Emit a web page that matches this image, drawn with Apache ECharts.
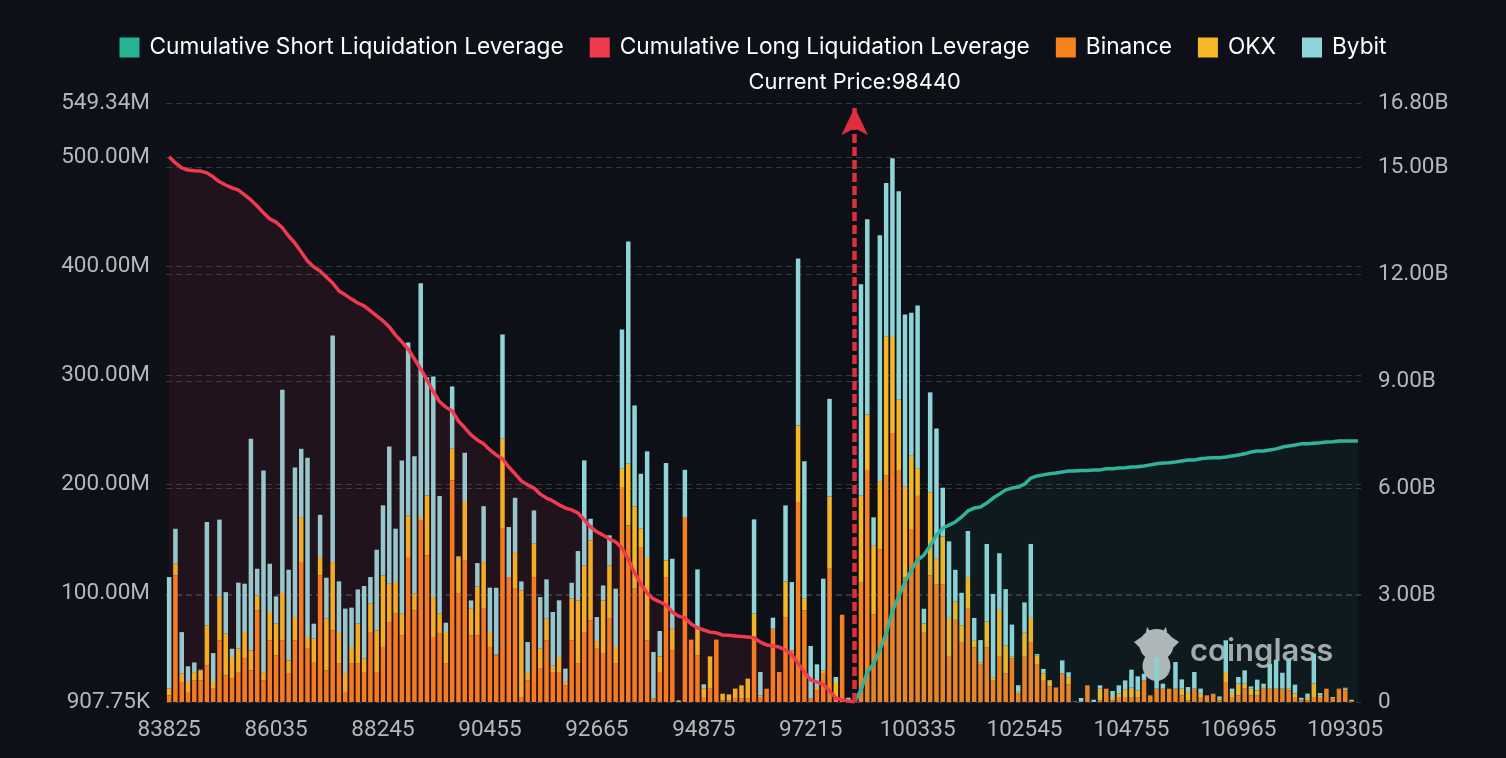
<!DOCTYPE html>
<html>
  <head>
    <meta charset="UTF-8" />
    <title>Liquidation Map</title>
    <style>
      html, body { margin: 0; padding: 0; background: #0d1017; }
      #chart { width: 1506px; height: 758px; }
    </style>
    <script src="https://cdn.jsdelivr.net/npm/echarts@6/dist/echarts.min.js"></script>
  </head>
  <body>
    <div id="chart"></div>
    <script>
      var currentPrice = 98440;

      // price levels, a label every 17 bars
      var prices = [
        83825,83955,84085,84215,84345,84475,84605,84735,84865,84995,85125,85255,85385,85515,85645,85775,85905,86035,
        86165,86295,86425,86555,86685,86815,86945,87075,87205,87335,87465,87595,87725,87855,87985,88115,88245,
        88375,88505,88635,88765,88895,89025,89155,89285,89415,89545,89675,89805,89935,90065,90195,90325,90455,
        90585,90715,90845,90975,91105,91235,91365,91495,91625,91755,91885,92015,92145,92275,92405,92535,92665,
        92795,92925,93055,93185,93315,93445,93575,93705,93835,93965,94095,94225,94355,94485,94615,94745,94875,
        95005,95135,95265,95395,95525,95655,95785,95915,96045,96175,96305,96435,96565,96695,96955,97085,97215,
        97345,97475,97605,97735,97865,97995,98440,
        99165,99295,99425,99555,99685,99815,99945,100075,100205,100335,
        100465,100595,100725,100855,100985,101115,101245,101375,101505,101635,101765,101895,102025,102155,102285,102415,102545,
        102675,102805,102935,103065,103195,103325,103455,103585,103715,103845,103975,104105,104235,104365,104495,104625,104755,
        104885,105015,105145,105275,105405,105535,105665,105795,105925,106055,106185,106315,106445,106575,106705,106835,106965,
        107095,107225,107355,107485,107615,107745,107875,108005,108135,108265,108395,108525,108655,108785,108915,109175,109305,
        109435,109565
      ];

      // liquidation per exchange, in millions
      var binance = [
        7.0,116.8,19.2,10.1,20.7,20.7,34.5,13.1,57.4,25.3,22.3,28.4,40.6,29.9,84.8,20.7,57.4,43.6,57.4,26.8,
        57.4,129.0,49.7,37.5,116.8,29.9,66.5,36.0,10.1,36.0,36.0,28.4,65.0,28.4,51.3,74.1,81.8,61.9,133.6,84.8,
        167.2,135.1,60.4,63.5,36.0,203.8,100.1,130.6,61.9,61.9,86.3,51.3,43.6,159.5,115.3,104.6,5.5,20.7,115.3,31.4,
        57.4,28.4,28.4,16.2,57.4,36.0,65.0,75.7,49.7,45.1,77.2,36.0,197.7,162.6,104.6,142.8,57.4,4.0,28.4,115.3,
        48.2,0.9,170.2,58.0,43.6,5.5,13.1,58.0,2.4,2.4,4.0,4.0,4.0,57.4,5.5,13.1,68.0,28.4,78.7,48.2,
        184.0,84.8,4.0,11.6,27.5,122.9,5.5,80.8,0.9,0.5,110.1,213.3,81.3,140.5,208.3,247.2,213.3,115.1,159.2,189.6,
        64.3,116.8,108.4,108.4,42.3,76.2,55.9,86.4,50.8,35.6,50.8,20.3,42.3,27.1,40.6,8.5,42.3,55.9,35.6,20.3,
        15.2,14.2,27.1,16.9,0.5,0.9,16.2,0.6,2.4,13.1,2.4,5.5,5.5,5.5,4.9,20.7,7.0,13.1,13.1,13.1,
        13.1,7.0,2.4,13.1,5.5,7.0,8.5,2.4,19.2,5.5,7.0,13.1,7.0,7.0,13.1,13.1,13.1,13.1,11.6,5.5,
        2.4,2.4,5.5,5.5,13.1,4.0,12.2,11.6,1.5,0.3
      ];
      var okx = [
        6.1,10.7,7.6,9.2,7.6,9.2,36.6,6.1,39.7,38.1,19.8,21.4,24.4,18.3,13.7,7.6,25.9,29.0,43.3,12.2,
        21.4,41.2,10.7,21.4,16.8,47.3,62.5,29.0,17.4,15.3,36.6,12.2,25.9,38.1,65.6,35.1,29.0,19.8,38.1,15.3,
        3.1,54.9,36.6,18.3,29.0,29.0,33.6,54.3,24.4,44.8,42.7,13.7,0.9,82.4,0,33.6,97.6,6.7,30.5,18.3,
        19.8,6.1,13.7,3.1,38.1,58.0,61.0,73.2,7.0,48.8,48.8,15.3,16.8,56.4,75.4,16.8,76.3,0,14.3,15.3,
        19.8,0.9,0,0,25.9,7.6,29.6,0,6.1,5.5,9.2,12.2,18.3,24.4,1.5,0,0,0,32.6,0,
        70.2,10.7,0,3.1,2.4,66.2,13.7,0,1.5,0,79.6,50.8,62.6,62.6,127.0,88.0,64.3,83.0,67.7,25.4,
        8.5,76.2,23.7,44.0,35.6,16.9,15.2,28.8,6.1,1.7,23.7,3.4,43.0,25.4,1.7,1.7,22.0,22.0,7.8,6.8,
        5.1,0,0,6.8,0.3,0.6,0,0.3,10.7,0,3.1,3.1,6.7,8.5,6.7,0,0,0,0,0,
        0,6.1,7.6,0,3.1,0,0,1.5,9.2,4.6,10.7,4.6,6.1,4.6,1.5,0,0,0,1.5,3.1,
        0.6,3.1,12.2,1.5,0,1.5,0.9,1.5,1.5,0.3
      ];
      var bybit = [
        102.2,32.0,38.1,14.3,8.8,0.6,94.6,26.5,70.8,38.1,7.6,60.4,44.2,193.7,24.4,184.6,44.2,25.0,186.1,83.0,
        136.7,62.5,164.1,13.7,38.7,37.5,207.4,46.4,58.9,36.0,31.4,66.5,24.4,73.8,64.1,125.7,48.8,140.3,158.3,125.7,
        213.9,108.3,202.0,107.7,8.5,57.0,0.6,44.2,7.6,21.4,51.2,40.6,61.0,95.5,45.8,49.7,8.2,28.4,30.5,47.3,
        36.0,48.8,51.9,12.2,14.6,45.1,96.1,19.8,22.0,13.7,27.5,53.4,127.5,203.5,92.4,50.3,96.7,42.7,23.2,89.1,
        64.1,0.6,43.3,0,52.8,4.0,0,0,0,0,0,0,0,86.3,21.4,0,10.1,0,69.6,62.5,
        152.8,125.9,48.2,20.7,83.9,89.4,4.6,0,2.4,0.5,193.7,178.8,26.1,225.2,140.9,163.6,191.0,157.5,130.5,149.0,
        13.5,91.4,119.2,44.7,70.1,28.8,29.8,42.3,21.0,20.3,71.1,76.2,51.8,51.8,29.5,6.1,27.8,67.7,1.4,4.1,
        0.7,0,11.9,4.4,0.5,3.1,0,2.1,3.1,0,5.5,7.6,8.5,16.5,12.8,6.1,0,28.4,4.6,0,
        24.4,8.5,4.6,15.3,4.6,0,0,2.1,29.0,3.1,6.1,12.2,2.1,9.8,3.1,22.9,26.5,14.6,26.5,8.2,
        1.8,3.1,27.5,2.1,0,0,0,0.9,0,0.3
      ];

      // cumulative leverage, in billions
      var cumulativeLong = [
        15.29,15.12,14.98,14.92,14.90,14.89,14.84,14.73,14.59,14.50,14.42,14.36,14.22,14.08,13.91,13.72,13.55,13.46,13.30,13.07,
        12.87,12.62,12.37,12.20,12.09,11.92,11.75,11.53,11.42,11.30,11.19,11.11,10.97,10.83,10.69,10.52,10.29,10.10,9.90,9.62,
        9.34,9.03,8.70,8.42,8.27,8.16,7.88,7.69,7.49,7.35,7.24,7.07,6.93,6.82,6.59,6.40,6.20,6.09,6.00,5.83,
        5.72,5.64,5.53,5.44,5.39,5.30,5.11,4.91,4.77,4.68,4.57,4.49,4.32,4.01,3.62,3.31,3.06,2.89,2.81,2.72,
        2.52,2.41,2.36,2.19,2.08,2.02,1.96,1.94,1.88,1.87,1.85,1.84,1.82,1.80,1.68,1.60,1.57,1.54,1.46,1.32,
        1.09,0.84,0.62,0.56,0.50,0.31,0.11,0.06,0.03,0
      ];
      var cumulativeShort = [
        0,0.34,0.84,1.07,1.46,1.91,2.55,2.97,3.37,3.70,3.98,4.12,4.38,4.68,4.88,4.96,5.05,5.19,5.36,5.44,
        5.47,5.58,5.72,5.83,5.95,6.00,6.03,6.11,6.28,6.34,6.37,6.40,6.42,6.45,6.48,6.48,6.49,6.49,6.51,6.51,
        6.54,6.54,6.56,6.57,6.59,6.60,6.62,6.65,6.68,6.70,6.71,6.73,6.76,6.79,6.79,6.82,6.84,6.85,6.85,6.87,
        6.90,6.93,6.96,7.01,7.04,7.04,7.07,7.10,7.15,7.18,7.21,7.24,7.24,7.26,7.27,7.29,7.30,7.32,7.32,7.32,7.32
      ];

      var priceIndex = prices.indexOf(currentPrice);
      var longData = cumulativeLong.slice();
      var shortData = new Array(priceIndex).fill(null).concat(cumulativeShort);

      var myChart = echarts.init(document.getElementById("chart"));

      var labelFont = "Roboto";
      var labelColor = "#b6b7ba";
      var splitLine = {
        show: true,
        lineStyle: { color: "#34383e", type: [6, 4], width: 1 }
      };

      function barSeries(name, data, color) {
        return {
          name: name,
          type: "bar",
          stack: "exchange",
          data: data,
          barWidth: 4.5,
          itemStyle: { color: color },
          z: 2
        };
      }

      var option = {
        backgroundColor: "#0d1017",
        animation: false,
        legend: {
          top: 31,
          left: "center",
          icon: "rect",
          itemWidth: 20,
          itemHeight: 20,
          itemGap: 26,
          textStyle: { color: "#ffffff", fontFamily: "Inter", fontSize: 22.7, padding: [0, 0, 0, 5] },
          data: [
            "Cumulative Short Liquidation Leverage",
            "Cumulative Long Liquidation Leverage",
            "Binance",
            "OKX",
            "Bybit"
          ]
        },
        grid: { left: 166, right: 145, top: 103, bottom: 56 },
        xAxis: {
          type: "category",
          data: prices.map(String),
          axisLine: { show: false },
          axisTick: { show: false },
          axisLabel: {
            interval: 16,
            color: labelColor,
            fontFamily: labelFont,
            fontSize: 22.5,
            margin: 17
          }
        },
        yAxis: [
          {
            type: "value",
            min: 0.90775,
            max: 549.34,
            axisLine: { show: false },
            axisTick: { show: false },
            splitLine: splitLine,
            axisLabel: {
              color: labelColor,
              fontFamily: labelFont,
              fontSize: 22.5,
              margin: 16,
              padding: [3, 0, 0, 0],
              formatter: function (v) {
                return v < 1 ? (v * 1000).toFixed(2) + "K" : v.toFixed(2) + "M";
              }
            }
          },
          {
            type: "value",
            min: 0,
            max: 16.8,
            interval: 3,
            position: "right",
            axisLine: { show: false },
            axisTick: { show: false },
            splitLine: splitLine,
            axisLabel: {
              color: labelColor,
              fontFamily: labelFont,
              fontSize: 22.5,
              margin: 17,
              padding: [3, 0, 0, 0],
              formatter: function (v) {
                return v === 0 ? "0" : v.toFixed(2) + "B";
              }
            }
          }
        ],
        graphic: [
          // coinglass watermark
          {
            type: "group",
            z: 1,
            silent: true,
            children: [
              { type: "polygon", z: 1, shape: { points: [[1134,642],[1143,636],[1143,650],[1139,647]] }, style: { fill: "#b6b8b9" } },
              { type: "polygon", z: 1, shape: { points: [[1179,642],[1170,636],[1170,650],[1174,647]] }, style: { fill: "#b6b8b9" } },
              { type: "polygon", z: 1, shape: { points: [[1146,632],[1147,627],[1150,631],[1163,631],[1166,627],[1167,632],[1156,640]] }, style: { fill: "#b6b8b9" } },
              { type: "ellipse", z: 1, shape: { cx: 1156.5, cy: 645, rx: 17, ry: 16 }, style: { fill: "#b6b8b9" } },
              { type: "ellipse", z: 1, shape: { cx: 1156.5, cy: 666, rx: 14, ry: 15 }, style: { fill: "#b6b8b9" } },
              { type: "text", z: 1, x: 1190, y: 636, style: { text: "coinglass", fill: "#a9abad", font: "600 31px Inter" } }
            ]
          }
        ],
        series: [
          barSeries("Binance", binance, "#f5821f"),
          barSeries("OKX", okx, "#f5b725"),
          barSeries("Bybit", bybit, "#8fd4d9"),
          {
            name: "Cumulative Short Liquidation Leverage",
            type: "line",
            yAxisIndex: 1,
            data: shortData,
            symbol: "none",
            z: 3,
            lineStyle: { color: "#2fb39a", width: 3.5 },
            itemStyle: { color: "#26b394" },
            areaStyle: { color: "rgba(47,179,154,0.09)" }
          },
          {
            name: "Cumulative Long Liquidation Leverage",
            type: "line",
            yAxisIndex: 1,
            data: longData,
            symbol: "none",
            z: 3,
            lineStyle: { color: "#ef3a4f", width: 3.5 },
            itemStyle: { color: "#ef3a4f" },
            areaStyle: { color: "rgba(240,54,74,0.12)" },
            markLine: {
              silent: true,
              symbol: ["none", "arrow"],
              symbolSize: [20, 28],
              lineStyle: { color: "#dd2f3e", width: 4.5, type: [9, 4] },
              label: {
                show: true,
                position: "end",
                distance: 14,
                color: "#ffffff",
                fontFamily: "Inter",
                fontSize: 21.8,
                formatter: "Current Price:" + currentPrice
              },
              data: [
                [
                  { xAxis: priceIndex, yAxis: 0 },
                  { xAxis: priceIndex, yAxis: 16.68 }
                ]
              ]
            }
          }
        ]
      };

      myChart.setOption(option);
    </script>
  </body>
</html>
